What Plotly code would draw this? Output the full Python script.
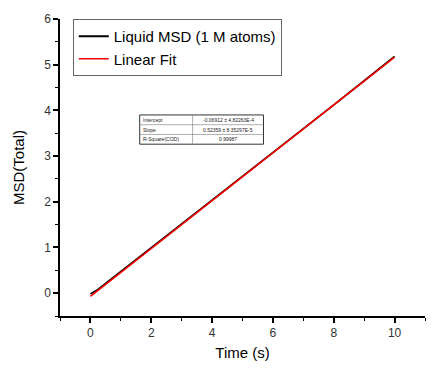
import plotly.graph_objects as go

# Data
time_s = [0, 0.1, 0.25, 0.5, 1, 2, 3, 4, 5, 6, 7, 8, 9, 10]
msd_total = [-0.02, 0.02, 0.08, 0.21, 0.47, 0.98, 1.50, 2.03, 2.55, 3.07, 3.60, 4.12, 4.65, 5.18]
fit_intercept = -0.06912
fit_slope = 0.52359
fit_time = [0, 10]
fit_values = [fit_intercept + fit_slope * t for t in fit_time]

table_labels = ["Intercept", "Slope", "R-Square(COD)"]
table_values = ["-0.06912 \u00b1 4.82263E-4", "0.52359 \u00b1 8.35297E-5", "0.99987"]

fig = go.Figure()
fig.add_trace(go.Scatter(x=time_s, y=msd_total, mode="lines", name="Liquid MSD (1 M atoms)",
                         line=dict(color="black", width=1.8)))
fig.add_trace(go.Scatter(x=fit_time, y=fit_values, mode="lines", name="Linear Fit",
                         line=dict(color="red", width=1.5)))

# table
x0, x1, xm = 1.62, 5.69, 3.36
ytop, ybot = 3.90, 3.26
rowh = (ytop - ybot) / 3
shapes = [dict(type="rect", xref="x", yref="y", x0=x0, x1=x1, y0=ybot, y1=ytop,
               line=dict(color="#333", width=1), fillcolor="white", layer="above"),
          dict(type="line", xref="x", yref="y", x0=xm, x1=xm, y0=ybot, y1=ytop,
               line=dict(color="#777", width=0.6))]
for i in range(1, 3):
    yy = ytop - i * rowh
    shapes.append(dict(type="line", xref="x", yref="y", x0=x0, x1=x1, y0=yy, y1=yy,
                       line=dict(color="#777", width=0.6)))
annotations = []
for i, (lab, val) in enumerate(zip(table_labels, table_values)):
    yc = ytop - (i + 0.5) * rowh
    annotations.append(dict(x=x0 + 0.05, y=yc, xref="x", yref="y", text=lab, showarrow=False,
                            xanchor="left", yanchor="middle", font=dict(size=5, color="#222", family="Arial")))
    annotations.append(dict(x=(xm + x1) / 2, y=yc, xref="x", yref="y", text=val, showarrow=False,
                            xanchor="center", yanchor="middle", font=dict(size=5, color="#222", family="Arial")))

fig.update_layout(
    width=428, height=367,
    margin=dict(l=52, r=11, t=11, b=59),
    paper_bgcolor="white", plot_bgcolor="white",
    font=dict(family="Arial, Liberation Sans", color="#222"),
    showlegend=True,
    legend=dict(x=0.035, y=1.0, xanchor="left", yanchor="top",
                bordercolor="#666", borderwidth=1, bgcolor="white",
                font=dict(size=15, color="black"), tracegroupgap=0, itemwidth=30),
    shapes=shapes, annotations=annotations,
    xaxis=dict(range=[-1, 11], tickmode="linear", tick0=0, dtick=2, showgrid=False, zeroline=False,
               automargin=False,
               showline=True, linecolor="black", linewidth=1.5, ticks="outside", ticklen=5,
               tickcolor="black", tickwidth=1.5, tickfont=dict(size=12, color="#333"),
               minor=dict(dtick=1, tick0=0, ticks="outside", ticklen=3, tickcolor="black", tickwidth=1.2),
               title=dict(text="Time (s)", font=dict(size=15, color="black"), standoff=8)),
    yaxis=dict(range=[-0.5, 6], tickmode="linear", tick0=0, dtick=1, showgrid=False, zeroline=False,
               automargin=False,
               showline=True, linecolor="black", linewidth=1.5, ticks="outside", ticklen=5,
               tickcolor="black", tickwidth=1.5, tickfont=dict(size=12, color="#333"),
               minor=dict(dtick=0.5, tick0=0, ticks="outside", ticklen=3, tickcolor="black", tickwidth=1.2),
               title=dict(text="MSD(Total)", font=dict(size=15, color="black"), standoff=16)),
)

fig.write_html("out.html")
